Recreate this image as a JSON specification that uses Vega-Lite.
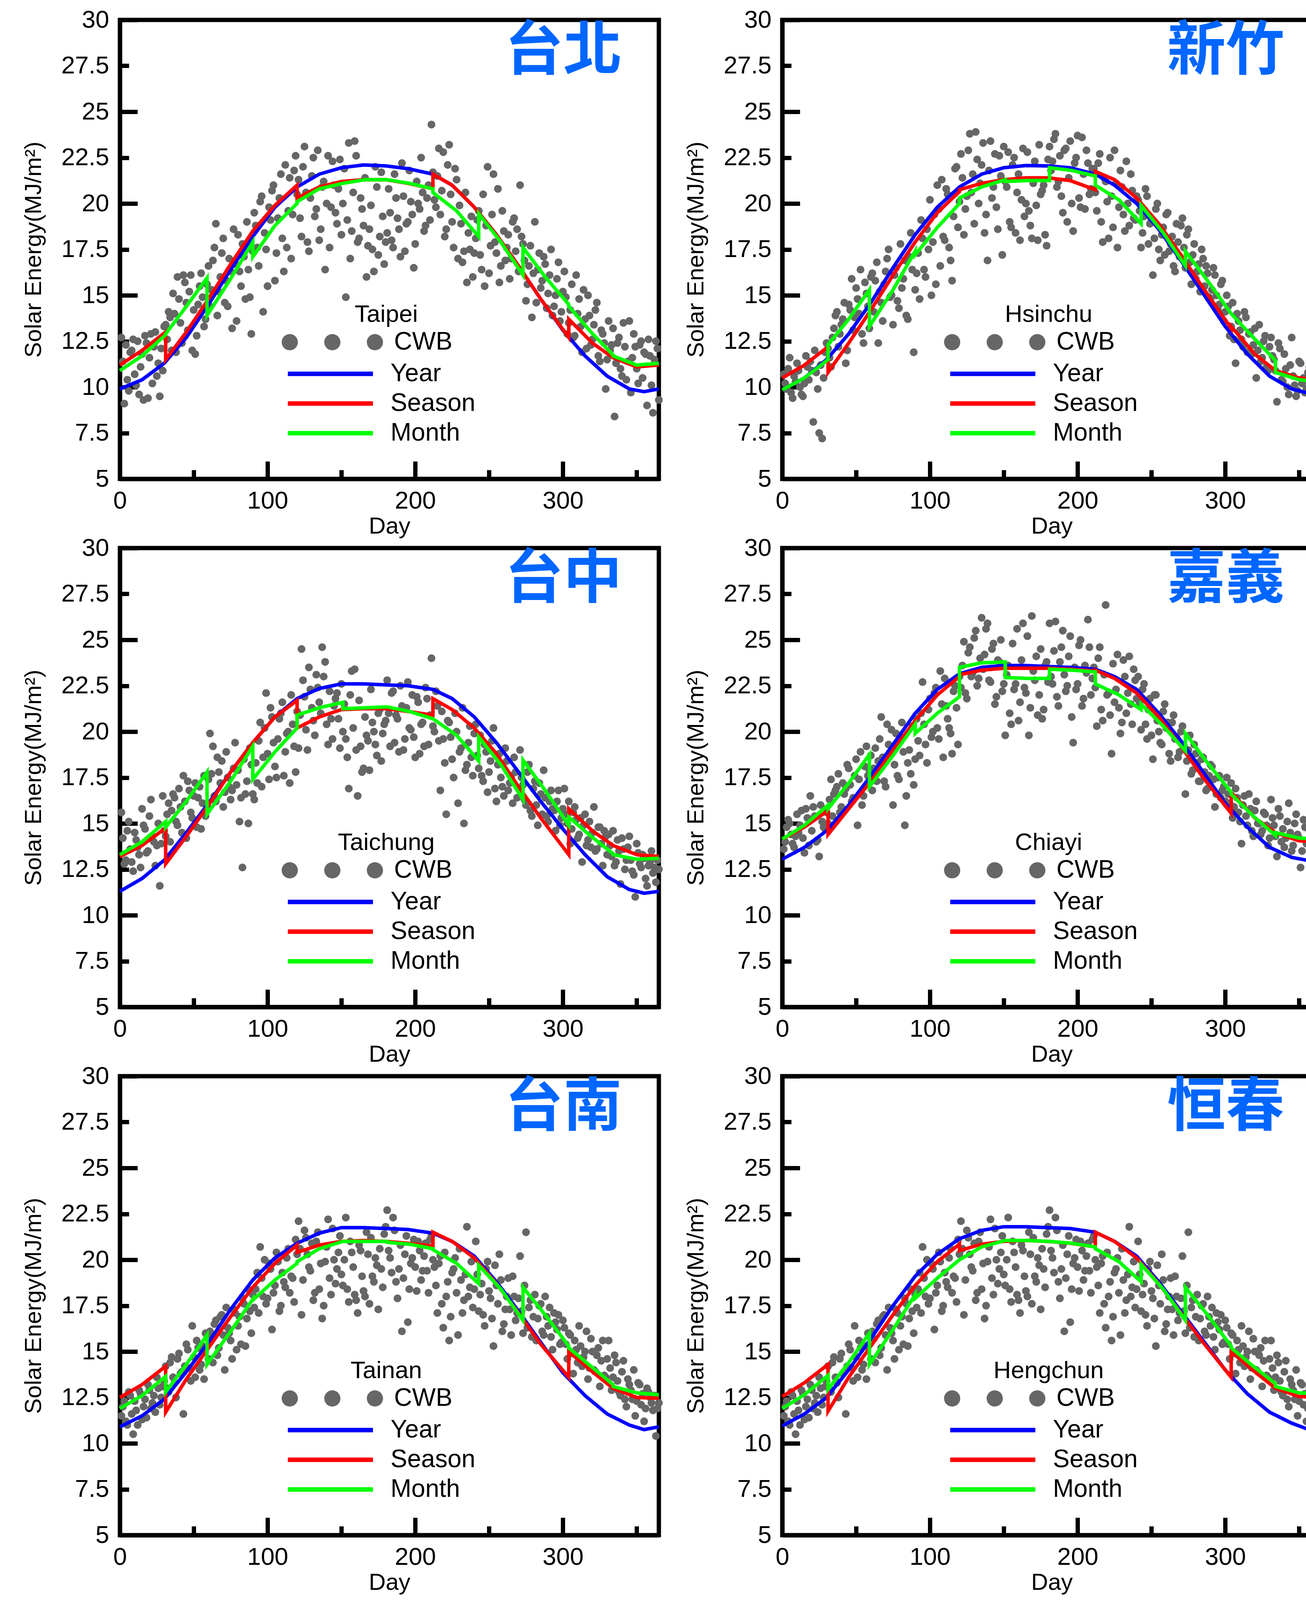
{
"$schema": "https://vega.github.io/schema/vega-lite/v6.json",
"background": "white",
"padding": {"left": 50, "top": 14, "right": 5, "bottom": 5},
"columns": 2,
"spacing": {"row": 177, "column": 316},
"bounds": "flush",
"resolve": {"scale": {"fill": "independent", "stroke": "independent"}, "legend": {"fill": "independent", "stroke": "independent"}},
"datasets": {
"cwb": [
{"d":1,"TP":12.7,"HC":10.7,"TC":15.6,"CY":13.6,"TN":11.5},
{"d":3,"TP":9.1,"HC":9.9,"TC":12.8,"CY":14.8,"TN":12.3},
{"d":5,"TP":10.4,"HC":11.6,"TC":14.6,"CY":15.0,"TN":11.0},
{"d":7,"TP":11.9,"HC":9.4,"TC":13.6,"CY":13.9,"TN":12.6},
{"d":9,"TP":12.6,"HC":10.3,"TC":12.4,"CY":14.3,"TN":10.5},
{"d":11,"TP":10.1,"HC":10.9,"TC":14.1,"CY":14.5,"TN":11.8},
{"d":13,"TP":9.6,"HC":9.6,"TC":13.3,"CY":15.7,"TN":12.9},
{"d":15,"TP":11.8,"HC":10.2,"TC":15.8,"CY":13.4,"TN":11.3},
{"d":17,"TP":12.8,"HC":11.1,"TC":14.7,"CY":15.3,"TN":12.4},
{"d":19,"TP":9.4,"HC":11.4,"TC":13.5,"CY":16.5,"TN":13.2},
{"d":21,"TP":12.9,"HC":8.1,"TC":16.3,"CY":15.9,"TN":11.9},
{"d":23,"TP":12.2,"HC":10.8,"TC":14.0,"CY":14.0,"TN":12.6},
{"d":25,"TP":10.6,"HC":7.5,"TC":13.8,"CY":13.2,"TN":13.6},
{"d":27,"TP":9.5,"HC":7.2,"TC":11.6,"CY":15.1,"TN":12.1},
{"d":29,"TP":10.9,"HC":11.9,"TC":16.5,"CY":14.7,"TN":13.1},
{"d":31,"TP":13.4,"HC":12.1,"TC":14.3,"CY":15.0,"TN":14.2},
{"d":33,"TP":14.1,"HC":11.1,"TC":16.1,"CY":17.4,"TN":12.8},
{"d":35,"TP":12.0,"HC":13.2,"TC":15.7,"CY":16.6,"TN":14.7},
{"d":37,"TP":14.0,"HC":14.1,"TC":16.4,"CY":17.0,"TN":13.3},
{"d":39,"TP":16.0,"HC":12.9,"TC":14.9,"CY":15.6,"TN":14.6},
{"d":41,"TP":13.5,"HC":13.7,"TC":15.9,"CY":17.2,"TN":13.8},
{"d":43,"TP":16.1,"HC":11.3,"TC":17.6,"CY":16.9,"TN":11.6},
{"d":45,"TP":14.6,"HC":14.5,"TC":14.2,"CY":18.0,"TN":15.4},
{"d":47,"TP":15.2,"HC":15.9,"TC":16.8,"CY":16.2,"TN":14.1},
{"d":49,"TP":12.0,"HC":13.8,"TC":15.3,"CY":17.6,"TN":16.4},
{"d":51,"TP":11.8,"HC":14.8,"TC":17.2,"CY":14.9,"TN":13.6},
{"d":53,"TP":14.5,"HC":16.4,"TC":16.4,"CY":18.9,"TN":15.2},
{"d":55,"TP":16.2,"HC":12.4,"TC":14.7,"CY":16.5,"TN":14.3},
{"d":57,"TP":13.3,"HC":15.1,"TC":17.6,"CY":19.2,"TN":13.5},
{"d":59,"TP":15.6,"HC":13.2,"TC":16.0,"CY":17.9,"TN":15.9},
{"d":61,"TP":14.4,"HC":16.2,"TC":19.9,"CY":16.8,"TN":16.1},
{"d":63,"TP":16.9,"HC":15.8,"TC":19.2,"CY":19.1,"TN":14.4},
{"d":65,"TP":18.9,"HC":12.4,"TC":16.2,"CY":18.4,"TN":16.7},
{"d":67,"TP":15.2,"HC":14.6,"TC":17.8,"CY":20.8,"TN":15.2},
{"d":69,"TP":17.3,"HC":15.6,"TC":18.4,"CY":17.3,"TN":17.0},
{"d":71,"TP":14.6,"HC":17.0,"TC":16.7,"CY":20.4,"TN":14.0},
{"d":73,"TP":14.4,"HC":14.9,"TC":17.5,"CY":18.7,"TN":16.3},
{"d":75,"TP":16.3,"HC":13.4,"TC":16.3,"CY":16.0,"TN":15.6},
{"d":77,"TP":18.6,"HC":16.5,"TC":18.0,"CY":19.9,"TN":17.3},
{"d":79,"TP":13.6,"HC":14.3,"TC":17.1,"CY":17.4,"TN":15.1},
{"d":81,"TP":16.3,"HC":15.4,"TC":15.1,"CY":20.5,"TN":16.9},
{"d":83,"TP":17.8,"HC":16.9,"TC":12.6,"CY":14.9,"TN":17.9},
{"d":85,"TP":14.8,"HC":13.7,"TC":16.6,"CY":18.3,"TN":15.3},
{"d":87,"TP":16.4,"HC":18.4,"TC":15.0,"CY":17.7,"TN":18.4},
{"d":89,"TP":12.9,"HC":11.9,"TC":18.2,"CY":17.1,"TN":16.0},
{"d":91,"TP":19.5,"HC":16.2,"TC":16.3,"CY":20.7,"TN":17.4},
{"d":93,"TP":17.6,"HC":14.8,"TC":17.2,"CY":18.7,"TN":19.3},
{"d":95,"TP":20.1,"HC":18.1,"TC":20.5,"CY":22.7,"TN":20.7},
{"d":97,"TP":14.1,"HC":16.0,"TC":18.6,"CY":19.3,"TN":18.0},
{"d":99,"TP":17.5,"HC":17.5,"TC":22.1,"CY":21.2,"TN":17.6},
{"d":101,"TP":19.8,"HC":15.0,"TC":17.4,"CY":19.7,"TN":19.8},
{"d":103,"TP":20.7,"HC":19.4,"TC":20.8,"CY":22.1,"TN":16.2},
{"d":105,"TP":15.8,"HC":21.0,"TC":18.1,"CY":20.2,"TN":18.6},
{"d":107,"TP":19.2,"HC":16.6,"TC":19.6,"CY":23.3,"TN":19.9},
{"d":109,"TP":21.6,"HC":18.2,"TC":21.0,"CY":18.6,"TN":17.5},
{"d":111,"TP":16.3,"HC":20.8,"TC":17.6,"CY":21.4,"TN":18.8},
{"d":113,"TP":17.6,"HC":17.6,"TC":19.9,"CY":20.2,"TN":20.1},
{"d":115,"TP":21.4,"HC":15.8,"TC":17.2,"CY":18.8,"TN":18.2},
{"d":117,"TP":19.4,"HC":21.9,"TC":20.4,"CY":22.5,"TN":19.0},
{"d":119,"TP":22.6,"HC":18.7,"TC":17.8,"CY":19.3,"TN":21.1},
{"d":121,"TP":21.3,"HC":22.7,"TC":19.1,"CY":22.4,"TN":22.1},
{"d":123,"TP":18.2,"HC":18.3,"TC":24.5,"CY":24.9,"TN":17.0},
{"d":125,"TP":23.1,"HC":20.4,"TC":21.9,"CY":21.8,"TN":21.6},
{"d":127,"TP":17.9,"HC":23.8,"TC":19.0,"CY":24.6,"TN":20.3},
{"d":129,"TP":20.3,"HC":21.6,"TC":22.3,"CY":23.2,"TN":19.4},
{"d":131,"TP":22.5,"HC":23.9,"TC":20.6,"CY":25.5,"TN":17.8},
{"d":133,"TP":19.7,"HC":20.0,"TC":23.1,"CY":22.9,"TN":21.0},
{"d":135,"TP":18.0,"HC":22.1,"TC":21.6,"CY":26.2,"TN":18.4},
{"d":137,"TP":20.9,"HC":18.4,"TC":24.6,"CY":24.2,"TN":16.8},
{"d":139,"TP":16.4,"HC":16.9,"TC":23.8,"CY":25.9,"TN":19.9},
{"d":141,"TP":22.6,"HC":23.4,"TC":19.3,"CY":22.7,"TN":22.2},
{"d":143,"TP":19.8,"HC":20.9,"TC":20.7,"CY":24.8,"TN":18.1},
{"d":145,"TP":21.0,"HC":19.8,"TC":21.4,"CY":21.9,"TN":20.0},
{"d":147,"TP":18.9,"HC":22.6,"TC":22.1,"CY":23.8,"TN":19.5},
{"d":149,"TP":22.4,"HC":17.2,"TC":19.1,"CY":22.2,"TN":21.3},
{"d":151,"TP":20.0,"HC":21.2,"TC":20.0,"CY":19.8,"TN":18.6},
{"d":153,"TP":14.9,"HC":22.8,"TC":19.6,"CY":23.6,"TN":22.3},
{"d":155,"TP":23.3,"HC":18.7,"TC":16.9,"CY":20.4,"TN":17.7},
{"d":157,"TP":18.5,"HC":22.5,"TC":23.3,"CY":22.3,"TN":20.4},
{"d":159,"TP":23.4,"HC":20.6,"TC":23.4,"CY":25.6,"TN":18.1},
{"d":161,"TP":17.9,"HC":18.0,"TC":16.5,"CY":21.6,"TN":17.1},
{"d":163,"TP":20.3,"HC":23.0,"TC":19.2,"CY":25.9,"TN":20.5},
{"d":165,"TP":18.8,"HC":20.0,"TC":18.0,"CY":22.1,"TN":18.3},
{"d":167,"TP":16.0,"HC":19.6,"TC":19.8,"CY":19.8,"TN":21.5},
{"d":169,"TP":18.6,"HC":18.1,"TC":17.9,"CY":26.3,"TN":17.6},
{"d":171,"TP":17.5,"HC":22.3,"TC":20.5,"CY":22.8,"TN":19.1},
{"d":173,"TP":22.0,"HC":18.0,"TC":19.3,"CY":20.9,"TN":20.1},
{"d":175,"TP":17.2,"HC":20.5,"TC":21.0,"CY":24.5,"TN":17.3},
{"d":177,"TP":21.7,"HC":21.0,"TC":18.4,"CY":21.2,"TN":19.5},
{"d":179,"TP":16.7,"HC":17.7,"TC":20.4,"CY":23.8,"TN":21.4},
{"d":181,"TP":18.4,"HC":23.1,"TC":22.8,"CY":25.9,"TN":22.7},
{"d":183,"TP":19.5,"HC":22.3,"TC":19.2,"CY":22.6,"TN":20.1},
{"d":185,"TP":17.6,"HC":23.8,"TC":22.2,"CY":26.0,"TN":22.3},
{"d":187,"TP":20.3,"HC":21.2,"TC":20.9,"CY":21.4,"TN":18.8},
{"d":189,"TP":18.6,"HC":20.4,"TC":18.9,"CY":24.6,"TN":19.5},
{"d":191,"TP":22.2,"HC":22.9,"TC":21.4,"CY":23.1,"TN":16.1},
{"d":193,"TP":17.4,"HC":19.0,"TC":19.6,"CY":22.5,"TN":20.3},
{"d":195,"TP":19.0,"HC":23.4,"TC":22.7,"CY":25.2,"TN":16.6},
{"d":197,"TP":20.1,"HC":18.5,"TC":20.1,"CY":19.4,"TN":19.8},
{"d":199,"TP":16.5,"HC":22.5,"TC":19.7,"CY":22.3,"TN":21.1},
{"d":201,"TP":21.2,"HC":20.3,"TC":21.9,"CY":24.7,"TN":18.3},
{"d":203,"TP":19.7,"HC":23.6,"TC":18.8,"CY":21.4,"TN":20.5},
{"d":205,"TP":20.6,"HC":19.7,"TC":20.5,"CY":23.6,"TN":19.4},
{"d":207,"TP":18.8,"HC":22.2,"TC":22.4,"CY":26.1,"TN":20.9},
{"d":209,"TP":21.0,"HC":20.8,"TC":19.3,"CY":22.0,"TN":18.2},
{"d":211,"TP":24.3,"HC":21.9,"TC":24.0,"CY":23.5,"TN":21.3},
{"d":213,"TP":20.2,"HC":19.6,"TC":20.0,"CY":20.3,"TN":19.6},
{"d":215,"TP":21.5,"HC":22.7,"TC":21.4,"CY":24.6,"TN":17.1},
{"d":217,"TP":19.4,"HC":17.9,"TC":16.8,"CY":20.6,"TN":20.2},
{"d":219,"TP":22.8,"HC":21.2,"TC":19.6,"CY":26.9,"TN":16.3},
{"d":221,"TP":18.6,"HC":18.1,"TC":15.5,"CY":22.1,"TN":18.0},
{"d":223,"TP":23.2,"HC":20.4,"TC":20.5,"CY":18.8,"TN":15.6},
{"d":225,"TP":19.0,"HC":22.9,"TC":18.5,"CY":21.6,"TN":19.3},
{"d":227,"TP":21.9,"HC":17.6,"TC":21.0,"CY":24.2,"TN":20.1},
{"d":229,"TP":17.0,"HC":21.8,"TC":16.1,"CY":19.9,"TN":15.9},
{"d":231,"TP":18.9,"HC":19.4,"TC":19.1,"CY":23.9,"TN":18.9},
{"d":233,"TP":17.4,"HC":22.3,"TC":15.0,"CY":21.0,"TN":17.8},
{"d":235,"TP":15.7,"HC":18.8,"TC":18.2,"CY":24.1,"TN":21.8},
{"d":237,"TP":17.5,"HC":20.7,"TC":20.3,"CY":20.4,"TN":18.5},
{"d":239,"TP":16.0,"HC":19.1,"TC":17.6,"CY":22.8,"TN":17.4},
{"d":241,"TP":18.1,"HC":20.2,"TC":20.4,"CY":23.0,"TN":21.0},
{"d":243,"TP":19.6,"HC":17.6,"TC":18.0,"CY":20.1,"TN":17.2},
{"d":245,"TP":16.4,"HC":19.3,"TC":17.6,"CY":22.6,"TN":18.7},
{"d":247,"TP":15.5,"HC":20.4,"TC":19.3,"CY":19.6,"TN":16.4},
{"d":249,"TP":22.0,"HC":18.9,"TC":16.7,"CY":21.8,"TN":19.9},
{"d":251,"TP":17.7,"HC":16.1,"TC":18.4,"CY":18.5,"TN":17.9},
{"d":253,"TP":21.6,"HC":19.7,"TC":20.2,"CY":22.0,"TN":15.3},
{"d":255,"TP":17.3,"HC":17.5,"TC":16.2,"CY":20.0,"TN":18.6},
{"d":257,"TP":15.7,"HC":18.3,"TC":18.8,"CY":19.3,"TN":20.3},
{"d":259,"TP":19.6,"HC":17.2,"TC":17.0,"CY":21.5,"TN":16.1},
{"d":261,"TP":16.9,"HC":19.5,"TC":19.1,"CY":20.5,"TN":17.3},
{"d":263,"TP":18.3,"HC":17.8,"TC":16.8,"CY":18.4,"TN":19.0},
{"d":265,"TP":17.0,"HC":16.6,"TC":17.6,"CY":20.9,"TN":15.9},
{"d":267,"TP":19.2,"HC":18.9,"TC":18.6,"CY":19.7,"TN":18.0},
{"d":269,"TP":18.6,"HC":17.1,"TC":16.4,"CY":18.9,"TN":17.1},
{"d":271,"TP":21.0,"HC":19.2,"TC":19.0,"CY":20.3,"TN":20.2},
{"d":273,"TP":17.8,"HC":16.5,"TC":17.1,"CY":16.6,"TN":16.0},
{"d":275,"TP":14.7,"HC":18.6,"TC":16.0,"CY":19.0,"TN":21.5},
{"d":277,"TP":16.6,"HC":15.6,"TC":18.2,"CY":17.7,"TN":17.4},
{"d":279,"TP":13.8,"HC":17.8,"TC":15.4,"CY":19.3,"TN":15.8},
{"d":281,"TP":19.0,"HC":16.3,"TC":17.3,"CY":18.3,"TN":18.1},
{"d":283,"TP":16.4,"HC":15.2,"TC":14.9,"CY":17.3,"TN":16.8},
{"d":285,"TP":15.4,"HC":17.0,"TC":16.6,"CY":18.6,"TN":17.6},
{"d":287,"TP":17.1,"HC":16.6,"TC":17.9,"CY":16.8,"TN":15.9},
{"d":289,"TP":14.3,"HC":14.9,"TC":15.4,"CY":17.6,"TN":16.9},
{"d":291,"TP":16.1,"HC":15.3,"TC":16.2,"CY":18.1,"TN":17.4},
{"d":293,"TP":13.9,"HC":16.1,"TC":15.8,"CY":15.9,"TN":15.1},
{"d":295,"TP":15.0,"HC":14.2,"TC":14.6,"CY":17.5,"TN":16.6},
{"d":297,"TP":16.8,"HC":15.6,"TC":16.8,"CY":16.4,"TN":17.0},
{"d":299,"TP":14.1,"HC":13.6,"TC":15.3,"CY":17.0,"TN":15.5},
{"d":301,"TP":16.3,"HC":15.0,"TC":16.9,"CY":17.5,"TN":16.3},
{"d":303,"TP":12.9,"HC":12.8,"TC":15.0,"CY":16.1,"TN":14.6},
{"d":305,"TP":14.2,"HC":14.6,"TC":13.9,"CY":15.3,"TN":15.9},
{"d":307,"TP":12.7,"HC":11.3,"TC":15.6,"CY":16.9,"TN":13.8},
{"d":309,"TP":16.1,"HC":13.6,"TC":15.2,"CY":15.6,"TN":15.1},
{"d":311,"TP":14.8,"HC":12.6,"TC":14.4,"CY":13.9,"TN":16.4},
{"d":313,"TP":11.9,"HC":14.1,"TC":12.9,"CY":16.5,"TN":14.2},
{"d":315,"TP":13.7,"HC":11.9,"TC":15.5,"CY":14.9,"TN":15.0},
{"d":317,"TP":15.0,"HC":13.0,"TC":14.1,"CY":15.8,"TN":13.5},
{"d":319,"TP":12.3,"HC":12.3,"TC":13.7,"CY":14.3,"TN":15.7},
{"d":321,"TP":13.4,"HC":10.5,"TC":15.9,"CY":16.2,"TN":14.0},
{"d":323,"TP":14.6,"HC":13.4,"TC":13.6,"CY":15.0,"TN":14.8},
{"d":325,"TP":11.4,"HC":11.6,"TC":14.8,"CY":14.6,"TN":13.1},
{"d":327,"TP":12.9,"HC":12.8,"TC":12.7,"CY":15.5,"TN":15.6},
{"d":329,"TP":9.9,"HC":10.9,"TC":14.3,"CY":13.8,"TN":13.6},
{"d":331,"TP":13.6,"HC":12.7,"TC":14.4,"CY":16.3,"TN":15.6},
{"d":333,"TP":12.3,"HC":11.5,"TC":13.2,"CY":14.9,"TN":12.9},
{"d":335,"TP":8.4,"HC":9.2,"TC":12.7,"CY":13.2,"TN":14.8},
{"d":337,"TP":12.4,"HC":12.1,"TC":14.1,"CY":15.4,"TN":13.4},
{"d":339,"TP":11.0,"HC":10.3,"TC":11.7,"CY":14.7,"TN":12.6},
{"d":341,"TP":13.5,"HC":11.0,"TC":13.6,"CY":14.2,"TN":14.5},
{"d":343,"TP":10.4,"HC":9.6,"TC":13.0,"CY":16.1,"TN":12.0},
{"d":345,"TP":13.6,"HC":12.7,"TC":14.3,"CY":13.5,"TN":13.2},
{"d":347,"TP":11.6,"HC":10.1,"TC":12.4,"CY":15.0,"TN":12.4},
{"d":349,"TP":12.2,"HC":9.8,"TC":11.0,"CY":14.4,"TN":11.5},
{"d":351,"TP":10.2,"HC":11.3,"TC":13.4,"CY":12.6,"TN":13.3},
{"d":353,"TP":12.5,"HC":10.5,"TC":12.6,"CY":15.2,"TN":12.1},
{"d":355,"TP":11.9,"HC":9.9,"TC":13.1,"CY":13.9,"TN":11.2},
{"d":357,"TP":9.0,"HC":11.1,"TC":11.6,"CY":14.6,"TN":13.0},
{"d":359,"TP":11.7,"HC":10.2,"TC":12.9,"CY":13.3,"TN":12.5},
{"d":361,"TP":8.6,"HC":9.6,"TC":12.3,"CY":14.8,"TN":11.8},
{"d":363,"TP":12.5,"HC":10.4,"TC":11.8,"CY":12.8,"TN":10.4},
{"d":365,"TP":9.3,"HC":8.8,"TC":12.5,"CY":14.1,"TN":12.2},
{"d":2,"TP":11.4,"HC":10.2,"TC":14.2,"CY":14.0,"TN":12.0},
{"d":4,"TP":12.3,"HC":11.0,"TC":13.0,"CY":15.2,"TN":11.2},
{"d":6,"TP":9.8,"HC":9.7,"TC":15.1,"CY":14.4,"TN":12.8},
{"d":8,"TP":12.0,"HC":10.6,"TC":12.9,"CY":13.7,"TN":11.6},
{"d":10,"TP":10.7,"HC":11.3,"TC":14.5,"CY":15.5,"TN":12.3},
{"d":12,"TP":12.5,"HC":10.0,"TC":13.7,"CY":14.9,"TN":11.0},
{"d":14,"TP":11.1,"HC":9.5,"TC":12.6,"CY":14.2,"TN":12.7},
{"d":16,"TP":9.3,"HC":11.7,"TC":14.9,"CY":15.8,"TN":12.0},
{"d":18,"TP":12.4,"HC":10.4,"TC":13.4,"CY":13.8,"TN":11.4},
{"d":20,"TP":11.6,"HC":10.9,"TC":15.4,"CY":14.6,"TN":12.9},
{"d":22,"TP":10.2,"HC":12.0,"TC":14.3,"CY":15.4,"TN":12.2},
{"d":24,"TP":13.0,"HC":9.9,"TC":12.7,"CY":14.1,"TN":11.7},
{"d":26,"TP":11.3,"HC":11.2,"TC":15.0,"CY":16.0,"TN":13.0},
{"d":28,"TP":12.1,"HC":10.5,"TC":13.9,"CY":14.8,"TN":12.5},
{"d":30,"TP":13.3,"HC":12.4,"TC":14.6,"CY":15.6,"TN":13.4},
{"d":32,"TP":12.6,"HC":11.6,"TC":15.5,"CY":16.3,"TN":13.0},
{"d":34,"TP":13.8,"HC":12.7,"TC":14.0,"CY":15.4,"TN":14.4},
{"d":36,"TP":15.1,"HC":13.9,"TC":16.6,"CY":16.8,"TN":13.6},
{"d":38,"TP":11.9,"HC":12.2,"TC":15.1,"CY":17.7,"TN":12.5},
{"d":40,"TP":14.8,"HC":13.4,"TC":16.9,"CY":15.9,"TN":14.9},
{"d":42,"TP":12.4,"HC":14.6,"TC":14.5,"CY":16.6,"TN":13.9},
{"d":44,"TP":15.7,"HC":12.0,"TC":16.2,"CY":18.2,"TN":14.2},
{"d":46,"TP":13.1,"HC":14.2,"TC":17.3,"CY":17.1,"TN":15.1},
{"d":48,"TP":16.1,"HC":13.1,"TC":15.6,"CY":16.4,"TN":13.4},
{"d":50,"TP":14.2,"HC":15.4,"TC":16.5,"CY":18.5,"TN":14.7},
{"d":52,"TP":12.8,"HC":14.0,"TC":14.8,"CY":17.4,"TN":15.6},
{"d":54,"TP":15.5,"HC":12.9,"TC":17.0,"CY":16.0,"TN":14.0},
{"d":56,"TP":14.9,"HC":15.7,"TC":16.1,"CY":18.1,"TN":15.3},
{"d":58,"TP":13.7,"HC":14.4,"TC":15.4,"CY":17.6,"TN":16.0},
{"d":60,"TP":16.6,"HC":16.0,"TC":17.4,"CY":18.7,"TN":14.6},
{"d":62,"TP":15.3,"HC":14.1,"TC":17.7,"CY":18.0,"TN":15.7},
{"d":64,"TP":17.6,"HC":16.8,"TC":16.5,"CY":17.3,"TN":16.5},
{"d":66,"TP":13.9,"HC":15.2,"TC":18.6,"CY":19.6,"TN":14.8},
{"d":68,"TP":16.0,"HC":13.6,"TC":17.2,"CY":18.6,"TN":16.9},
{"d":70,"TP":18.1,"HC":16.3,"TC":15.9,"CY":17.0,"TN":15.9},
{"d":72,"TP":15.8,"HC":17.5,"TC":18.9,"CY":19.3,"TN":17.4},
{"d":74,"TP":17.0,"HC":15.0,"TC":17.0,"CY":20.1,"TN":16.0},
{"d":76,"TP":13.2,"HC":16.1,"TC":16.8,"CY":18.2,"TN":14.6},
{"d":78,"TP":16.7,"HC":14.7,"TC":19.4,"CY":17.6,"TN":17.1},
{"d":80,"TP":18.3,"HC":17.8,"TC":17.9,"CY":19.7,"TN":16.4},
{"d":82,"TP":15.5,"HC":15.9,"TC":16.4,"CY":18.9,"TN":15.4},
{"d":84,"TP":17.1,"HC":13.9,"TC":18.5,"CY":16.5,"TN":17.6},
{"d":86,"TP":19.0,"HC":17.1,"TC":17.3,"CY":19.0,"TN":16.8},
{"d":88,"TP":14.9,"HC":16.4,"TC":19.1,"CY":20.3,"TN":17.2},
{"d":90,"TP":17.4,"HC":15.3,"TC":16.6,"CY":18.5,"TN":18.1},
{"d":92,"TP":18.8,"HC":17.3,"TC":18.3,"CY":19.5,"TN":18.4},
{"d":94,"TP":16.6,"HC":19.1,"TC":19.5,"CY":21.0,"TN":17.1},
{"d":96,"TP":20.4,"HC":16.4,"TC":17.0,"CY":20.4,"TN":19.0},
{"d":98,"TP":18.4,"HC":18.6,"TC":20.2,"CY":18.3,"TN":20.0},
{"d":100,"TP":15.5,"HC":20.2,"TC":18.8,"CY":21.8,"TN":17.9},
{"d":102,"TP":19.1,"HC":17.9,"TC":21.3,"CY":20.0,"TN":19.5},
{"d":104,"TP":21.0,"HC":15.6,"TC":19.4,"CY":22.4,"TN":18.2},
{"d":106,"TP":17.3,"HC":19.7,"TC":17.5,"CY":19.6,"TN":20.4},
{"d":108,"TP":20.3,"HC":21.3,"TC":20.7,"CY":21.5,"TN":17.2},
{"d":110,"TP":18.1,"HC":18.0,"TC":21.6,"CY":22.9,"TN":19.3},
{"d":112,"TP":22.1,"HC":20.5,"TC":18.9,"CY":20.7,"TN":18.5},
{"d":114,"TP":19.6,"HC":16.9,"TC":20.0,"CY":19.9,"TN":20.6},
{"d":116,"TP":17.0,"HC":19.3,"TC":22.0,"CY":22.2,"TN":19.1},
{"d":118,"TP":21.8,"HC":22.0,"TC":19.2,"CY":21.3,"TN":17.7},
{"d":120,"TP":20.5,"HC":20.1,"TC":21.1,"CY":23.0,"TN":20.3},
{"d":122,"TP":19.2,"HC":21.4,"TC":20.9,"CY":23.6,"TN":20.6},
{"d":124,"TP":22.0,"HC":19.7,"TC":22.8,"CY":22.1,"TN":18.9},
{"d":126,"TP":20.6,"HC":22.9,"TC":20.1,"CY":24.3,"TN":21.2},
{"d":128,"TP":17.4,"HC":20.6,"TC":23.5,"CY":23.0,"TN":19.6},
{"d":130,"TP":21.5,"HC":18.9,"TC":21.3,"CY":25.1,"TN":20.9},
{"d":132,"TP":19.3,"HC":22.4,"TC":19.8,"CY":22.5,"TN":18.2},
{"d":134,"TP":22.9,"HC":21.1,"TC":22.4,"CY":24.0,"TN":21.5},
{"d":136,"TP":18.6,"HC":23.3,"TC":21.0,"CY":23.4,"TN":19.8},
{"d":138,"TP":21.2,"HC":19.4,"TC":23.0,"CY":25.6,"TN":17.5},
{"d":140,"TP":20.0,"HC":21.8,"TC":20.4,"CY":22.8,"TN":20.7},
{"d":142,"TP":17.6,"HC":20.3,"TC":22.2,"CY":24.5,"TN":19.0},
{"d":144,"TP":22.3,"HC":22.7,"TC":19.6,"CY":21.5,"TN":21.7},
{"d":146,"TP":19.5,"HC":18.6,"TC":21.8,"CY":23.9,"TN":18.7},
{"d":148,"TP":20.8,"HC":21.5,"TC":20.7,"CY":25.0,"TN":20.4},
{"d":150,"TP":18.3,"HC":23.1,"TC":22.6,"CY":22.6,"TN":19.2},
{"d":152,"TP":21.9,"HC":20.9,"TC":21.5,"CY":23.1,"TN":20.0},
{"d":154,"TP":19.1,"HC":19.0,"TC":18.6,"CY":21.0,"TN":18.4},
{"d":156,"TP":17.0,"HC":22.1,"TC":22.0,"CY":24.8,"TN":21.0},
{"d":158,"TP":20.6,"HC":18.4,"TC":20.2,"CY":22.6,"TN":19.6},
{"d":160,"TP":22.6,"HC":21.6,"TC":19.0,"CY":20.6,"TN":17.8},
{"d":162,"TP":18.1,"HC":20.2,"TC":21.7,"CY":23.9,"TN":20.8},
{"d":164,"TP":19.7,"HC":19.3,"TC":17.8,"CY":22.4,"TN":19.1},
{"d":166,"TP":21.4,"HC":22.8,"TC":20.8,"CY":25.2,"TN":18.0},
{"d":168,"TP":17.7,"HC":18.8,"TC":19.5,"CY":21.3,"TN":20.3},
{"d":170,"TP":19.9,"HC":21.1,"TC":22.3,"CY":23.3,"TN":21.2},
{"d":172,"TP":16.3,"HC":19.9,"TC":20.0,"CY":24.1,"TN":18.8},
{"d":174,"TP":20.9,"HC":23.2,"TC":18.7,"CY":22.0,"TN":19.7},
{"d":176,"TP":18.2,"HC":20.7,"TC":21.2,"CY":20.7,"TN":20.6},
{"d":178,"TP":19.3,"HC":18.3,"TC":19.9,"CY":23.6,"TN":18.5},
{"d":180,"TP":17.9,"HC":22.4,"TC":20.6,"CY":22.7,"TN":21.8},
{"d":182,"TP":20.8,"HC":21.8,"TC":21.0,"CY":23.0,"TN":20.5},
{"d":184,"TP":18.0,"HC":23.5,"TC":22.1,"CY":24.4,"TN":19.3},
{"d":186,"TP":21.6,"HC":20.9,"TC":19.4,"CY":21.9,"TN":21.6},
{"d":188,"TP":19.2,"HC":22.6,"TC":20.7,"CY":23.8,"TN":17.9},
{"d":190,"TP":17.1,"HC":19.5,"TC":22.5,"CY":25.5,"TN":20.8},
{"d":192,"TP":20.4,"HC":23.0,"TC":19.0,"CY":22.2,"TN":19.0},
{"d":194,"TP":18.9,"HC":21.4,"TC":21.3,"CY":24.1,"TN":21.3},
{"d":196,"TP":21.8,"HC":20.0,"TC":20.2,"CY":20.8,"TN":18.4},
{"d":198,"TP":19.4,"HC":22.2,"TC":22.0,"CY":23.5,"TN":20.1},
{"d":200,"TP":17.8,"HC":23.7,"TC":18.6,"CY":22.6,"TN":19.6},
{"d":202,"TP":20.0,"HC":19.8,"TC":21.6,"CY":25.0,"TN":21.0},
{"d":204,"TP":22.5,"HC":21.6,"TC":20.4,"CY":21.8,"TN":18.9},
{"d":206,"TP":18.5,"HC":22.9,"TC":19.2,"CY":23.2,"TN":20.2},
{"d":208,"TP":20.3,"HC":20.5,"TC":21.8,"CY":24.6,"TN":19.4},
{"d":210,"TP":19.1,"HC":21.9,"TC":20.9,"CY":22.9,"TN":21.1},
{"d":212,"TP":21.7,"HC":20.6,"TC":20.3,"CY":22.4,"TN":20.0},
{"d":214,"TP":19.8,"HC":22.2,"TC":22.2,"CY":24.0,"TN":18.6},
{"d":216,"TP":23.0,"HC":19.0,"TC":19.5,"CY":21.2,"TN":19.8},
{"d":218,"TP":20.7,"HC":21.4,"TC":21.1,"CY":23.1,"TN":17.6},
{"d":220,"TP":18.2,"HC":20.1,"TC":18.3,"CY":22.0,"TN":20.4},
{"d":222,"TP":22.1,"HC":22.5,"TC":20.6,"CY":20.9,"TN":18.8},
{"d":224,"TP":20.5,"HC":18.7,"TC":19.7,"CY":23.7,"TN":16.9},
{"d":226,"TP":17.6,"HC":21.1,"TC":17.5,"CY":22.3,"TN":19.5},
{"d":228,"TP":21.3,"HC":19.8,"TC":20.0,"CY":21.3,"TN":18.2},
{"d":230,"TP":19.9,"HC":20.9,"TC":18.9,"CY":20.5,"TN":20.6},
{"d":232,"TP":16.8,"HC":18.5,"TC":21.3,"CY":23.0,"TN":17.1},
{"d":234,"TP":20.6,"HC":20.0,"TC":17.9,"CY":22.1,"TN":19.2},
{"d":236,"TP":18.4,"HC":21.6,"TC":19.4,"CY":21.5,"TN":18.0},
{"d":238,"TP":19.3,"HC":19.2,"TC":18.6,"CY":23.4,"TN":19.9},
{"d":240,"TP":17.3,"HC":20.4,"TC":19.9,"CY":21.8,"TN":18.4},
{"d":242,"TP":19.1,"HC":19.6,"TC":18.7,"CY":21.6,"TN":19.2},
{"d":244,"TP":17.2,"HC":18.4,"TC":19.8,"CY":22.3,"TN":18.1},
{"d":246,"TP":20.5,"HC":20.8,"TC":17.3,"CY":20.4,"TN":17.0},
{"d":248,"TP":18.8,"HC":17.8,"TC":18.9,"CY":21.2,"TN":19.5},
{"d":250,"TP":16.2,"HC":19.1,"TC":17.8,"CY":19.8,"TN":18.3},
{"d":252,"TP":19.4,"HC":18.1,"TC":19.5,"CY":22.0,"TN":16.8},
{"d":254,"TP":17.9,"HC":20.0,"TC":16.9,"CY":20.6,"TN":19.7},
{"d":256,"TP":20.8,"HC":16.9,"TC":18.2,"CY":19.4,"TN":17.6},
{"d":258,"TP":16.6,"HC":18.7,"TC":17.5,"CY":21.1,"TN":18.9},
{"d":260,"TP":18.5,"HC":19.4,"TC":16.5,"CY":20.2,"TN":16.5},
{"d":262,"TP":17.6,"HC":17.4,"TC":18.4,"CY":18.8,"TN":18.0},
{"d":264,"TP":15.9,"HC":18.2,"TC":17.2,"CY":20.5,"TN":17.3},
{"d":266,"TP":19.0,"HC":16.3,"TC":16.1,"CY":19.6,"TN":19.1},
{"d":268,"TP":17.4,"HC":17.9,"TC":17.8,"CY":18.6,"TN":16.7},
{"d":270,"TP":16.3,"HC":18.8,"TC":16.9,"CY":20.0,"TN":17.9},
{"d":272,"TP":18.2,"HC":17.6,"TC":17.5,"CY":19.2,"TN":17.2},
{"d":274,"TP":16.9,"HC":18.3,"TC":16.3,"CY":18.4,"TN":18.6},
{"d":276,"TP":15.6,"HC":16.8,"TC":17.8,"CY":19.8,"TN":16.3},
{"d":278,"TP":17.7,"HC":17.2,"TC":15.7,"CY":17.9,"TN":17.8},
{"d":280,"TP":16.2,"HC":15.9,"TC":16.9,"CY":18.8,"TN":16.9},
{"d":282,"TP":14.6,"HC":16.7,"TC":16.0,"CY":17.3,"TN":15.6},
{"d":284,"TP":17.3,"HC":17.5,"TC":17.2,"CY":18.5,"TN":17.5},
{"d":286,"TP":15.8,"HC":15.5,"TC":15.5,"CY":17.8,"TN":16.1},
{"d":288,"TP":16.7,"HC":16.2,"TC":16.4,"CY":16.9,"TN":18.0},
{"d":290,"TP":15.1,"HC":14.8,"TC":15.1,"CY":18.2,"TN":16.4},
{"d":292,"TP":17.5,"HC":16.5,"TC":16.8,"CY":17.4,"TN":15.8},
{"d":294,"TP":14.4,"HC":15.0,"TC":15.7,"CY":16.6,"TN":17.1},
{"d":296,"TP":15.9,"HC":14.5,"TC":16.2,"CY":17.6,"TN":16.2},
{"d":298,"TP":13.6,"HC":15.8,"TC":14.9,"CY":16.8,"TN":15.4},
{"d":300,"TP":15.2,"HC":14.1,"TC":15.8,"CY":16.2,"TN":16.7},
{"d":302,"TP":14.9,"HC":14.4,"TC":15.5,"CY":16.6,"TN":15.4},
{"d":304,"TP":13.5,"HC":13.3,"TC":16.2,"CY":17.2,"TN":16.0},
{"d":306,"TP":15.6,"HC":12.6,"TC":14.7,"CY":15.9,"TN":14.9},
{"d":308,"TP":12.8,"HC":14.0,"TC":15.9,"CY":16.4,"TN":15.6},
{"d":310,"TP":14.0,"HC":13.1,"TC":14.2,"CY":15.1,"TN":14.4},
{"d":312,"TP":13.3,"HC":12.2,"TC":15.3,"CY":16.0,"TN":15.3},
{"d":314,"TP":15.3,"HC":13.8,"TC":14.9,"CY":15.4,"TN":14.7},
{"d":316,"TP":12.1,"HC":12.9,"TC":13.8,"CY":16.6,"TN":16.1},
{"d":318,"TP":13.9,"HC":11.8,"TC":15.1,"CY":14.6,"TN":14.1},
{"d":320,"TP":12.6,"HC":13.2,"TC":14.5,"CY":15.7,"TN":15.0},
{"d":322,"TP":14.2,"HC":12.0,"TC":13.5,"CY":15.0,"TN":13.9},
{"d":324,"TP":11.7,"HC":11.4,"TC":14.8,"CY":14.4,"TN":15.2},
{"d":326,"TP":13.1,"HC":12.5,"TC":13.9,"CY":15.6,"TN":14.5},
{"d":328,"TP":12.4,"HC":11.1,"TC":14.6,"CY":14.9,"TN":13.7},
{"d":330,"TP":11.5,"HC":12.2,"TC":13.3,"CY":14.2,"TN":14.6},
{"d":332,"TP":12.0,"HC":11.7,"TC":13.8,"CY":15.3,"TN":14.1},
{"d":334,"TP":13.2,"HC":10.9,"TC":14.6,"CY":14.3,"TN":13.6},
{"d":336,"TP":11.3,"HC":12.4,"TC":12.9,"CY":15.8,"TN":14.4},
{"d":338,"TP":12.7,"HC":10.4,"TC":13.5,"CY":14.0,"TN":12.8},
{"d":340,"TP":10.6,"HC":11.8,"TC":14.2,"CY":13.7,"TN":13.9},
{"d":342,"TP":12.2,"HC":10.0,"TC":12.5,"CY":15.1,"TN":12.4},
{"d":344,"TP":11.4,"HC":11.2,"TC":13.7,"CY":14.5,"TN":13.5},
{"d":346,"TP":9.7,"HC":10.6,"TC":13.0,"CY":13.8,"TN":12.9},
{"d":348,"TP":12.9,"HC":9.5,"TC":12.2,"CY":15.5,"TN":14.0},
{"d":350,"TP":11.0,"HC":11.4,"TC":13.9,"CY":14.2,"TN":12.3},
{"d":352,"TP":12.3,"HC":10.2,"TC":12.8,"CY":13.5,"TN":13.2},
{"d":354,"TP":10.5,"HC":9.7,"TC":13.3,"CY":14.8,"TN":12.7},
{"d":356,"TP":11.8,"HC":10.8,"TC":12.0,"CY":14.1,"TN":11.9},
{"d":358,"TP":12.6,"HC":10.0,"TC":12.7,"CY":13.6,"TN":12.8},
{"d":360,"TP":10.1,"HC":10.6,"TC":13.5,"CY":15.0,"TN":12.2},
{"d":362,"TP":11.5,"HC":9.9,"TC":12.6,"CY":14.3,"TN":12.6},
{"d":364,"TP":12.1,"HC":11.0,"TC":13.0,"CY":13.9,"TN":11.9}
],
"fit": [
{"t":"Year","d":0,"TP":9.9,"HC":9.85,"TC":11.3,"CY":13.05,"TN":10.9,"HG":10.95},
{"t":"Year","d":15,"TP":10.4,"HC":10.5,"TC":12.0,"CY":13.7,"TN":11.5,"HG":11.6},
{"t":"Year","d":30,"TP":11.3,"HC":11.5,"TC":13.0,"CY":14.6,"TN":12.4,"HG":12.5},
{"t":"Year","d":45,"TP":12.7,"HC":12.9,"TC":14.5,"CY":16.0,"TN":13.9,"HG":14.0},
{"t":"Year","d":60,"TP":14.5,"HC":14.6,"TC":16.1,"CY":17.6,"TN":15.5,"HG":15.7},
{"t":"Year","d":75,"TP":16.4,"HC":16.5,"TC":17.8,"CY":19.3,"TN":17.3,"HG":17.5},
{"t":"Year","d":90,"TP":18.2,"HC":18.3,"TC":19.4,"CY":21.0,"TN":18.9,"HG":19.1},
{"t":"Year","d":105,"TP":19.8,"HC":19.8,"TC":20.8,"CY":22.3,"TN":20.1,"HG":20.3},
{"t":"Year","d":120,"TP":20.9,"HC":20.9,"TC":21.8,"CY":23.15,"TN":20.9,"HG":21.15},
{"t":"Year","d":135,"TP":21.6,"HC":21.6,"TC":22.35,"CY":23.5,"TN":21.45,"HG":21.6},
{"t":"Year","d":150,"TP":21.95,"HC":21.95,"TC":22.6,"CY":23.6,"TN":21.75,"HG":21.8},
{"t":"Year","d":165,"TP":22.1,"HC":22.07,"TC":22.6,"CY":23.6,"TN":21.75,"HG":21.8},
{"t":"Year","d":180,"TP":22.05,"HC":22.05,"TC":22.55,"CY":23.55,"TN":21.7,"HG":21.75},
{"t":"Year","d":195,"TP":21.9,"HC":21.95,"TC":22.5,"CY":23.5,"TN":21.65,"HG":21.7},
{"t":"Year","d":212,"TP":21.6,"HC":21.6,"TC":22.3,"CY":23.4,"TN":21.45,"HG":21.5},
{"t":"Year","d":225,"TP":21.0,"HC":21.0,"TC":21.8,"CY":23.0,"TN":21.0,"HG":21.0},
{"t":"Year","d":240,"TP":19.8,"HC":20.0,"TC":20.8,"CY":22.3,"TN":20.2,"HG":20.2},
{"t":"Year","d":255,"TP":18.3,"HC":18.6,"TC":19.4,"CY":21.0,"TN":18.8,"HG":18.8},
{"t":"Year","d":270,"TP":16.6,"HC":16.9,"TC":17.8,"CY":19.5,"TN":17.2,"HG":17.2},
{"t":"Year","d":285,"TP":14.8,"HC":15.1,"TC":16.2,"CY":17.8,"TN":15.5,"HG":15.6},
{"t":"Year","d":300,"TP":13.1,"HC":13.3,"TC":14.7,"CY":16.1,"TN":13.85,"HG":14.0},
{"t":"Year","d":315,"TP":11.7,"HC":11.8,"TC":13.3,"CY":14.8,"TN":12.6,"HG":12.7},
{"t":"Year","d":330,"TP":10.6,"HC":10.6,"TC":12.1,"CY":13.7,"TN":11.6,"HG":11.7},
{"t":"Year","d":345,"TP":9.9,"HC":9.9,"TC":11.4,"CY":13.15,"TN":11.0,"HG":11.1},
{"t":"Year","d":355,"TP":9.75,"HC":9.7,"TC":11.2,"CY":13.0,"TN":10.75,"HG":10.8},
{"t":"Year","d":365,"TP":9.9,"HC":9.8,"TC":11.3,"CY":13.05,"TN":10.9,"HG":10.9},
{"t":"Season","d":0,"TP":11.2,"HC":10.5,"TC":13.2,"CY":14.15,"TN":12.5,"HG":12.55},
{"t":"Season","d":15,"TP":12.0,"HC":11.2,"TC":13.8,"CY":14.8,"TN":13.2,"HG":13.3},
{"t":"Season","d":31,"TP":13.0,"HC":12.2,"TC":14.75,"CY":15.7,"TN":14.2,"HG":14.3},
{"t":"Season","d":31,"TP":11.5,"HC":10.8,"TC":12.8,"CY":14.4,"TN":11.7,"HG":11.75},
{"t":"Season","d":45,"TP":13.0,"HC":12.4,"TC":14.3,"CY":15.8,"TN":13.5,"HG":13.6},
{"t":"Season","d":60,"TP":14.8,"HC":14.2,"TC":16.0,"CY":17.3,"TN":15.2,"HG":15.3},
{"t":"Season","d":75,"TP":16.7,"HC":16.1,"TC":17.8,"CY":19.0,"TN":16.9,"HG":17.0},
{"t":"Season","d":90,"TP":18.5,"HC":17.9,"TC":19.4,"CY":20.6,"TN":18.5,"HG":18.6},
{"t":"Season","d":105,"TP":19.9,"HC":19.5,"TC":20.8,"CY":22.0,"TN":19.8,"HG":19.9},
{"t":"Season","d":120,"TP":21.0,"HC":20.65,"TC":21.7,"CY":23.0,"TN":20.8,"HG":20.85},
{"t":"Season","d":120,"TP":20.3,"HC":20.75,"TC":20.2,"CY":23.1,"TN":20.4,"HG":20.5},
{"t":"Season","d":135,"TP":20.9,"HC":21.1,"TC":20.8,"CY":23.35,"TN":20.8,"HG":20.85},
{"t":"Season","d":150,"TP":21.2,"HC":21.3,"TC":21.2,"CY":23.45,"TN":21.0,"HG":21.0},
{"t":"Season","d":165,"TP":21.3,"HC":21.4,"TC":21.25,"CY":23.45,"TN":21.05,"HG":21.05},
{"t":"Season","d":180,"TP":21.3,"HC":21.4,"TC":21.25,"CY":23.45,"TN":21.0,"HG":21.0},
{"t":"Season","d":195,"TP":21.1,"HC":21.25,"TC":21.1,"CY":23.4,"TN":20.9,"HG":20.9},
{"t":"Season","d":212,"TP":20.8,"HC":20.75,"TC":20.9,"CY":23.3,"TN":20.75,"HG":20.7},
{"t":"Season","d":212,"TP":21.6,"HC":21.75,"TC":21.8,"CY":23.35,"TN":21.5,"HG":21.5},
{"t":"Season","d":225,"TP":21.0,"HC":21.3,"TC":21.2,"CY":22.9,"TN":21.0,"HG":21.0},
{"t":"Season","d":240,"TP":19.8,"HC":20.3,"TC":20.2,"CY":22.1,"TN":20.1,"HG":20.1},
{"t":"Season","d":255,"TP":18.3,"HC":18.9,"TC":18.8,"CY":20.8,"TN":18.7,"HG":18.7},
{"t":"Season","d":270,"TP":16.6,"HC":17.2,"TC":17.0,"CY":19.2,"TN":17.1,"HG":17.1},
{"t":"Season","d":285,"TP":14.8,"HC":15.4,"TC":15.3,"CY":17.5,"TN":15.4,"HG":15.5},
{"t":"Season","d":304,"TP":12.7,"HC":13.2,"TC":13.3,"CY":15.55,"TN":13.6,"HG":13.6},
{"t":"Season","d":304,"TP":13.7,"HC":13.3,"TC":15.8,"CY":16.7,"TN":15.0,"HG":15.0},
{"t":"Season","d":320,"TP":12.4,"HC":11.8,"TC":14.6,"CY":15.3,"TN":13.9,"HG":13.9},
{"t":"Season","d":334,"TP":11.6,"HC":10.9,"TC":13.8,"CY":14.5,"TN":13.0,"HG":13.0},
{"t":"Season","d":350,"TP":11.1,"HC":10.5,"TC":13.3,"CY":14.05,"TN":12.5,"HG":12.55},
{"t":"Season","d":365,"TP":11.2,"HC":10.4,"TC":13.2,"CY":14.0,"TN":12.45,"HG":12.5},
{"t":"Month","d":0,"TP":10.9,"HC":9.85,"TC":13.3,"CY":14.15,"TN":11.9,"HG":11.9},
{"t":"Month","d":15,"TP":11.7,"HC":10.5,"TC":14.0,"CY":14.9,"TN":12.6,"HG":12.65},
{"t":"Month","d":31,"TP":12.85,"HC":11.5,"TC":15.1,"CY":16.0,"TN":13.65,"HG":13.7},
{"t":"Month","d":31,"TP":12.9,"HC":12.3,"TC":14.8,"CY":15.8,"TN":12.8,"HG":12.95},
{"t":"Month","d":45,"TP":14.4,"HC":13.7,"TC":16.2,"CY":17.2,"TN":14.3,"HG":14.4},
{"t":"Month","d":59,"TP":15.95,"HC":15.3,"TC":17.8,"CY":18.75,"TN":15.9,"HG":16.0},
{"t":"Month","d":59,"TP":13.9,"HC":13.3,"TC":15.5,"CY":17.0,"TN":14.3,"HG":14.3},
{"t":"Month","d":75,"TP":15.9,"HC":15.3,"TC":17.3,"CY":18.7,"TN":16.1,"HG":16.2},
{"t":"Month","d":90,"TP":17.9,"HC":17.4,"TC":19.2,"CY":20.4,"TN":17.85,"HG":18.1},
{"t":"Month","d":90,"TP":17.1,"HC":17.2,"TC":17.4,"CY":19.9,"TN":17.8,"HG":17.9},
{"t":"Month","d":105,"TP":18.8,"HC":18.7,"TC":18.9,"CY":21.0,"TN":18.9,"HG":19.0},
{"t":"Month","d":120,"TP":20.0,"HC":20.0,"TC":20.2,"CY":21.9,"TN":19.8,"HG":20.0},
{"t":"Month","d":120,"TP":20.1,"HC":20.3,"TC":20.9,"CY":23.5,"TN":19.9,"HG":20.0},
{"t":"Month","d":135,"TP":20.8,"HC":20.9,"TC":21.3,"CY":23.75,"TN":20.6,"HG":20.7},
{"t":"Month","d":151,"TP":21.1,"HC":21.3,"TC":21.6,"CY":23.8,"TN":21.0,"HG":21.05},
{"t":"Month","d":151,"TP":21.1,"HC":21.2,"TC":21.25,"CY":22.95,"TN":21.0,"HG":21.05},
{"t":"Month","d":166,"TP":21.3,"HC":21.25,"TC":21.3,"CY":22.9,"TN":21.0,"HG":21.05},
{"t":"Month","d":181,"TP":21.3,"HC":21.25,"TC":21.35,"CY":22.9,"TN":21.0,"HG":21.0},
{"t":"Month","d":181,"TP":21.3,"HC":21.95,"TC":21.35,"CY":23.4,"TN":20.95,"HG":21.0},
{"t":"Month","d":196,"TP":21.1,"HC":21.8,"TC":21.1,"CY":23.35,"TN":20.85,"HG":20.9},
{"t":"Month","d":212,"TP":20.8,"HC":21.5,"TC":20.7,"CY":23.25,"TN":20.6,"HG":20.7},
{"t":"Month","d":212,"TP":20.6,"HC":21.0,"TC":20.7,"CY":22.6,"TN":20.55,"HG":20.6},
{"t":"Month","d":228,"TP":19.6,"HC":20.2,"TC":19.8,"CY":22.0,"TN":19.8,"HG":19.9},
{"t":"Month","d":243,"TP":18.2,"HC":18.9,"TC":18.4,"CY":21.2,"TN":18.7,"HG":18.8},
{"t":"Month","d":243,"TP":19.45,"HC":19.9,"TC":19.7,"CY":21.5,"TN":19.7,"HG":19.75},
{"t":"Month","d":258,"TP":17.9,"HC":18.4,"TC":18.2,"CY":20.3,"TN":18.4,"HG":18.4},
{"t":"Month","d":273,"TP":16.1,"HC":16.6,"TC":16.3,"CY":18.95,"TN":16.7,"HG":16.7},
{"t":"Month","d":273,"TP":17.6,"HC":17.4,"TC":18.45,"CY":19.9,"TN":18.5,"HG":18.5},
{"t":"Month","d":288,"TP":16.0,"HC":15.8,"TC":16.8,"CY":18.3,"TN":17.0,"HG":17.0},
{"t":"Month","d":304,"TP":14.5,"HC":14.0,"TC":14.9,"CY":16.7,"TN":15.3,"HG":15.3},
{"t":"Month","d":304,"TP":14.4,"HC":14.0,"TC":15.35,"CY":16.6,"TN":15.2,"HG":15.2},
{"t":"Month","d":319,"TP":13.0,"HC":12.7,"TC":14.3,"CY":15.4,"TN":14.2,"HG":14.2},
{"t":"Month","d":334,"TP":11.75,"HC":11.45,"TC":13.35,"CY":14.35,"TN":13.2,"HG":13.25},
{"t":"Month","d":334,"TP":11.7,"HC":10.8,"TC":13.3,"CY":14.5,"TN":13.1,"HG":13.1},
{"t":"Month","d":350,"TP":11.2,"HC":10.4,"TC":13.05,"CY":14.2,"TN":12.75,"HG":12.75},
{"t":"Month","d":365,"TP":11.3,"HC":10.3,"TC":13.1,"CY":14.15,"TN":12.65,"HG":12.7}
]
},
"concat": [
{"width": 1380, "height": 1175, "layer": [
 {"data": {"name": "cwb"}, "mark": {"type": "circle", "size": 400, "opacity": 1},
  "encoding": {
   "x": {"field": "d", "type": "quantitative", "scale": {"domain": [0, 365], "nice": false, "zero": false}, "axis": {"title": "Day", "values": [0,50,100,150,200,250,300,350], "labelExpr": "datum.value % 100 === 0 ? datum.label : ''", "tickSize": {"condition": {"test": "datum.value % 100 === 0", "value": -45}, "value": -23}, "labelPadding": {"condition": {"test": "datum.value % 100 === 0", "value": 70}, "value": 48}, "titlePadding": 4}},
   "y": {"field": "TP", "type": "quantitative", "scale": {"domain": [5, 30], "nice": false, "zero": false}, "axis": {"title": "Solar Energy(MJ/m²)", "values": [5,7.5,10,12.5,15,17.5,20,22.5,25,27.5,30], "labelExpr": "'' + datum.value", "tickSize": {"condition": {"test": "datum.value % 5 === 0", "value": -45}, "value": -23}, "labelPadding": {"condition": {"test": "datum.value % 5 === 0", "value": 73}, "value": 51}, "titlePadding": 39}},
   "fill": {"datum": "CWB", "type": "nominal", "scale": {"domain": ["CWB"], "range": ["#666666"]}, "legend": {"title": "Taipei", "legendX": 512, "legendY": 724, "symbolType": "M -3.24 0 A 0.76 0.76 0 1 0 -4.76 0 A 0.76 0.76 0 1 0 -3.24 0 Z M 0.76 0 A 0.76 0.76 0 1 0 -0.76 0 A 0.76 0.76 0 1 0 0.76 0 Z M 4.76 0 A 0.76 0.76 0 1 0 3.24 0 A 0.76 0.76 0 1 0 4.76 0 Z", "symbolSize": 2970, "symbolStrokeWidth": 0, "symbolOpacity": 1, "labelOffset": 126, "titlePadding": 7}}
  }},
 {"data": {"name": "fit"}, "transform": [{"filter": "datum.t === 'Year'"}], "mark": {"type": "line", "strokeWidth": 9}, "encoding": {"x": {"field": "d", "type": "quantitative"}, "y": {"field": "TP", "type": "quantitative"}, "stroke": {"field": "t", "type": "nominal", "scale": {"domain": ["Year","Season","Month"], "range": ["#0000ff","#ff0000","#00ff00"]}, "legend": {"title": null, "legendX": 506, "legendY": 873, "symbolType": "M -4 0 L 4 0", "symbolSize": 2970, "symbolStrokeWidth": 11.5, "symbolOpacity": 1, "labelOffset": 121, "rowPadding": 11}}, "order": {"value": null}}},
 {"data": {"name": "fit"}, "transform": [{"filter": "datum.t === 'Season'"}], "mark": {"type": "line", "strokeWidth": 9}, "encoding": {"x": {"field": "d", "type": "quantitative"}, "y": {"field": "TP", "type": "quantitative"}, "stroke": {"field": "t", "type": "nominal"}, "order": {"value": null}}},
 {"data": {"name": "fit"}, "transform": [{"filter": "datum.t === 'Month'"}], "mark": {"type": "line", "strokeWidth": 9}, "encoding": {"x": {"field": "d", "type": "quantitative"}, "y": {"field": "TP", "type": "quantitative"}, "stroke": {"field": "t", "type": "nominal"}, "order": {"value": null}}},
 {"data": {"values": [{"n": "台北"}]}, "mark": {"type": "text", "align": "right", "baseline": "middle", "fontSize": 150, "font": "Noto Sans CJK TC", "fontWeight": "bold", "color": "#0066ff"}, "encoding": {"x": {"datum": 340, "type": "quantitative"}, "y": {"datum": 28.25, "type": "quantitative"}, "text": {"field": "n"}}}
]},
{"width": 1380, "height": 1175, "layer": [
 {"data": {"name": "cwb"}, "mark": {"type": "circle", "size": 400, "opacity": 1},
  "encoding": {
   "x": {"field": "d", "type": "quantitative", "scale": {"domain": [0, 365], "nice": false, "zero": false}, "axis": {"title": "Day", "values": [0,50,100,150,200,250,300,350], "labelExpr": "datum.value % 100 === 0 ? datum.label : ''", "tickSize": {"condition": {"test": "datum.value % 100 === 0", "value": -45}, "value": -23}, "labelPadding": {"condition": {"test": "datum.value % 100 === 0", "value": 70}, "value": 48}, "titlePadding": 4}},
   "y": {"field": "HC", "type": "quantitative", "scale": {"domain": [5, 30], "nice": false, "zero": false}, "axis": {"title": "Solar Energy(MJ/m²)", "values": [5,7.5,10,12.5,15,17.5,20,22.5,25,27.5,30], "labelExpr": "'' + datum.value", "tickSize": {"condition": {"test": "datum.value % 5 === 0", "value": -45}, "value": -23}, "labelPadding": {"condition": {"test": "datum.value % 5 === 0", "value": 73}, "value": 51}, "titlePadding": 39}},
   "fill": {"datum": "CWB", "type": "nominal", "scale": {"domain": ["CWB"], "range": ["#666666"]}, "legend": {"title": "Hsinchu", "legendX": 512, "legendY": 724, "symbolType": "M -3.24 0 A 0.76 0.76 0 1 0 -4.76 0 A 0.76 0.76 0 1 0 -3.24 0 Z M 0.76 0 A 0.76 0.76 0 1 0 -0.76 0 A 0.76 0.76 0 1 0 0.76 0 Z M 4.76 0 A 0.76 0.76 0 1 0 3.24 0 A 0.76 0.76 0 1 0 4.76 0 Z", "symbolSize": 2970, "symbolStrokeWidth": 0, "symbolOpacity": 1, "labelOffset": 126, "titlePadding": 7}}
  }},
 {"data": {"name": "fit"}, "transform": [{"filter": "datum.t === 'Year'"}], "mark": {"type": "line", "strokeWidth": 9}, "encoding": {"x": {"field": "d", "type": "quantitative"}, "y": {"field": "HC", "type": "quantitative"}, "stroke": {"field": "t", "type": "nominal", "scale": {"domain": ["Year","Season","Month"], "range": ["#0000ff","#ff0000","#00ff00"]}, "legend": {"title": null, "legendX": 506, "legendY": 873, "symbolType": "M -4 0 L 4 0", "symbolSize": 2970, "symbolStrokeWidth": 11.5, "symbolOpacity": 1, "labelOffset": 121, "rowPadding": 11}}, "order": {"value": null}}},
 {"data": {"name": "fit"}, "transform": [{"filter": "datum.t === 'Season'"}], "mark": {"type": "line", "strokeWidth": 9}, "encoding": {"x": {"field": "d", "type": "quantitative"}, "y": {"field": "HC", "type": "quantitative"}, "stroke": {"field": "t", "type": "nominal"}, "order": {"value": null}}},
 {"data": {"name": "fit"}, "transform": [{"filter": "datum.t === 'Month'"}], "mark": {"type": "line", "strokeWidth": 9}, "encoding": {"x": {"field": "d", "type": "quantitative"}, "y": {"field": "HC", "type": "quantitative"}, "stroke": {"field": "t", "type": "nominal"}, "order": {"value": null}}},
 {"data": {"values": [{"n": "新竹"}]}, "mark": {"type": "text", "align": "right", "baseline": "middle", "fontSize": 150, "font": "Noto Sans CJK TC", "fontWeight": "bold", "color": "#0066ff"}, "encoding": {"x": {"datum": 340, "type": "quantitative"}, "y": {"datum": 28.25, "type": "quantitative"}, "text": {"field": "n"}}}
]},
{"width": 1380, "height": 1175, "layer": [
 {"data": {"name": "cwb"}, "mark": {"type": "circle", "size": 400, "opacity": 1},
  "encoding": {
   "x": {"field": "d", "type": "quantitative", "scale": {"domain": [0, 365], "nice": false, "zero": false}, "axis": {"title": "Day", "values": [0,50,100,150,200,250,300,350], "labelExpr": "datum.value % 100 === 0 ? datum.label : ''", "tickSize": {"condition": {"test": "datum.value % 100 === 0", "value": -45}, "value": -23}, "labelPadding": {"condition": {"test": "datum.value % 100 === 0", "value": 70}, "value": 48}, "titlePadding": 4}},
   "y": {"field": "TC", "type": "quantitative", "scale": {"domain": [5, 30], "nice": false, "zero": false}, "axis": {"title": "Solar Energy(MJ/m²)", "values": [5,7.5,10,12.5,15,17.5,20,22.5,25,27.5,30], "labelExpr": "'' + datum.value", "tickSize": {"condition": {"test": "datum.value % 5 === 0", "value": -45}, "value": -23}, "labelPadding": {"condition": {"test": "datum.value % 5 === 0", "value": 73}, "value": 51}, "titlePadding": 39}},
   "fill": {"datum": "CWB", "type": "nominal", "scale": {"domain": ["CWB"], "range": ["#666666"]}, "legend": {"title": "Taichung", "legendX": 512, "legendY": 724, "symbolType": "M -3.24 0 A 0.76 0.76 0 1 0 -4.76 0 A 0.76 0.76 0 1 0 -3.24 0 Z M 0.76 0 A 0.76 0.76 0 1 0 -0.76 0 A 0.76 0.76 0 1 0 0.76 0 Z M 4.76 0 A 0.76 0.76 0 1 0 3.24 0 A 0.76 0.76 0 1 0 4.76 0 Z", "symbolSize": 2970, "symbolStrokeWidth": 0, "symbolOpacity": 1, "labelOffset": 126, "titlePadding": 7}}
  }},
 {"data": {"name": "fit"}, "transform": [{"filter": "datum.t === 'Year'"}], "mark": {"type": "line", "strokeWidth": 9}, "encoding": {"x": {"field": "d", "type": "quantitative"}, "y": {"field": "TC", "type": "quantitative"}, "stroke": {"field": "t", "type": "nominal", "scale": {"domain": ["Year","Season","Month"], "range": ["#0000ff","#ff0000","#00ff00"]}, "legend": {"title": null, "legendX": 506, "legendY": 873, "symbolType": "M -4 0 L 4 0", "symbolSize": 2970, "symbolStrokeWidth": 11.5, "symbolOpacity": 1, "labelOffset": 121, "rowPadding": 11}}, "order": {"value": null}}},
 {"data": {"name": "fit"}, "transform": [{"filter": "datum.t === 'Season'"}], "mark": {"type": "line", "strokeWidth": 9}, "encoding": {"x": {"field": "d", "type": "quantitative"}, "y": {"field": "TC", "type": "quantitative"}, "stroke": {"field": "t", "type": "nominal"}, "order": {"value": null}}},
 {"data": {"name": "fit"}, "transform": [{"filter": "datum.t === 'Month'"}], "mark": {"type": "line", "strokeWidth": 9}, "encoding": {"x": {"field": "d", "type": "quantitative"}, "y": {"field": "TC", "type": "quantitative"}, "stroke": {"field": "t", "type": "nominal"}, "order": {"value": null}}},
 {"data": {"values": [{"n": "台中"}]}, "mark": {"type": "text", "align": "right", "baseline": "middle", "fontSize": 150, "font": "Noto Sans CJK TC", "fontWeight": "bold", "color": "#0066ff"}, "encoding": {"x": {"datum": 340, "type": "quantitative"}, "y": {"datum": 28.25, "type": "quantitative"}, "text": {"field": "n"}}}
]},
{"width": 1380, "height": 1175, "layer": [
 {"data": {"name": "cwb"}, "mark": {"type": "circle", "size": 400, "opacity": 1},
  "encoding": {
   "x": {"field": "d", "type": "quantitative", "scale": {"domain": [0, 365], "nice": false, "zero": false}, "axis": {"title": "Day", "values": [0,50,100,150,200,250,300,350], "labelExpr": "datum.value % 100 === 0 ? datum.label : ''", "tickSize": {"condition": {"test": "datum.value % 100 === 0", "value": -45}, "value": -23}, "labelPadding": {"condition": {"test": "datum.value % 100 === 0", "value": 70}, "value": 48}, "titlePadding": 4}},
   "y": {"field": "CY", "type": "quantitative", "scale": {"domain": [5, 30], "nice": false, "zero": false}, "axis": {"title": "Solar Energy(MJ/m²)", "values": [5,7.5,10,12.5,15,17.5,20,22.5,25,27.5,30], "labelExpr": "'' + datum.value", "tickSize": {"condition": {"test": "datum.value % 5 === 0", "value": -45}, "value": -23}, "labelPadding": {"condition": {"test": "datum.value % 5 === 0", "value": 73}, "value": 51}, "titlePadding": 39}},
   "fill": {"datum": "CWB", "type": "nominal", "scale": {"domain": ["CWB"], "range": ["#666666"]}, "legend": {"title": "Chiayi", "legendX": 512, "legendY": 724, "symbolType": "M -3.24 0 A 0.76 0.76 0 1 0 -4.76 0 A 0.76 0.76 0 1 0 -3.24 0 Z M 0.76 0 A 0.76 0.76 0 1 0 -0.76 0 A 0.76 0.76 0 1 0 0.76 0 Z M 4.76 0 A 0.76 0.76 0 1 0 3.24 0 A 0.76 0.76 0 1 0 4.76 0 Z", "symbolSize": 2970, "symbolStrokeWidth": 0, "symbolOpacity": 1, "labelOffset": 126, "titlePadding": 7}}
  }},
 {"data": {"name": "fit"}, "transform": [{"filter": "datum.t === 'Year'"}], "mark": {"type": "line", "strokeWidth": 9}, "encoding": {"x": {"field": "d", "type": "quantitative"}, "y": {"field": "CY", "type": "quantitative"}, "stroke": {"field": "t", "type": "nominal", "scale": {"domain": ["Year","Season","Month"], "range": ["#0000ff","#ff0000","#00ff00"]}, "legend": {"title": null, "legendX": 506, "legendY": 873, "symbolType": "M -4 0 L 4 0", "symbolSize": 2970, "symbolStrokeWidth": 11.5, "symbolOpacity": 1, "labelOffset": 121, "rowPadding": 11}}, "order": {"value": null}}},
 {"data": {"name": "fit"}, "transform": [{"filter": "datum.t === 'Season'"}], "mark": {"type": "line", "strokeWidth": 9}, "encoding": {"x": {"field": "d", "type": "quantitative"}, "y": {"field": "CY", "type": "quantitative"}, "stroke": {"field": "t", "type": "nominal"}, "order": {"value": null}}},
 {"data": {"name": "fit"}, "transform": [{"filter": "datum.t === 'Month'"}], "mark": {"type": "line", "strokeWidth": 9}, "encoding": {"x": {"field": "d", "type": "quantitative"}, "y": {"field": "CY", "type": "quantitative"}, "stroke": {"field": "t", "type": "nominal"}, "order": {"value": null}}},
 {"data": {"values": [{"n": "嘉義"}]}, "mark": {"type": "text", "align": "right", "baseline": "middle", "fontSize": 150, "font": "Noto Sans CJK TC", "fontWeight": "bold", "color": "#0066ff"}, "encoding": {"x": {"datum": 340, "type": "quantitative"}, "y": {"datum": 28.25, "type": "quantitative"}, "text": {"field": "n"}}}
]},
{"width": 1380, "height": 1175, "layer": [
 {"data": {"name": "cwb"}, "mark": {"type": "circle", "size": 400, "opacity": 1},
  "encoding": {
   "x": {"field": "d", "type": "quantitative", "scale": {"domain": [0, 365], "nice": false, "zero": false}, "axis": {"title": "Day", "values": [0,50,100,150,200,250,300,350], "labelExpr": "datum.value % 100 === 0 ? datum.label : ''", "tickSize": {"condition": {"test": "datum.value % 100 === 0", "value": -45}, "value": -23}, "labelPadding": {"condition": {"test": "datum.value % 100 === 0", "value": 70}, "value": 48}, "titlePadding": 4}},
   "y": {"field": "TN", "type": "quantitative", "scale": {"domain": [5, 30], "nice": false, "zero": false}, "axis": {"title": "Solar Energy(MJ/m²)", "values": [5,7.5,10,12.5,15,17.5,20,22.5,25,27.5,30], "labelExpr": "'' + datum.value", "tickSize": {"condition": {"test": "datum.value % 5 === 0", "value": -45}, "value": -23}, "labelPadding": {"condition": {"test": "datum.value % 5 === 0", "value": 73}, "value": 51}, "titlePadding": 39}},
   "fill": {"datum": "CWB", "type": "nominal", "scale": {"domain": ["CWB"], "range": ["#666666"]}, "legend": {"title": "Tainan", "legendX": 512, "legendY": 724, "symbolType": "M -3.24 0 A 0.76 0.76 0 1 0 -4.76 0 A 0.76 0.76 0 1 0 -3.24 0 Z M 0.76 0 A 0.76 0.76 0 1 0 -0.76 0 A 0.76 0.76 0 1 0 0.76 0 Z M 4.76 0 A 0.76 0.76 0 1 0 3.24 0 A 0.76 0.76 0 1 0 4.76 0 Z", "symbolSize": 2970, "symbolStrokeWidth": 0, "symbolOpacity": 1, "labelOffset": 126, "titlePadding": 7}}
  }},
 {"data": {"name": "fit"}, "transform": [{"filter": "datum.t === 'Year'"}], "mark": {"type": "line", "strokeWidth": 9}, "encoding": {"x": {"field": "d", "type": "quantitative"}, "y": {"field": "TN", "type": "quantitative"}, "stroke": {"field": "t", "type": "nominal", "scale": {"domain": ["Year","Season","Month"], "range": ["#0000ff","#ff0000","#00ff00"]}, "legend": {"title": null, "legendX": 506, "legendY": 873, "symbolType": "M -4 0 L 4 0", "symbolSize": 2970, "symbolStrokeWidth": 11.5, "symbolOpacity": 1, "labelOffset": 121, "rowPadding": 11}}, "order": {"value": null}}},
 {"data": {"name": "fit"}, "transform": [{"filter": "datum.t === 'Season'"}], "mark": {"type": "line", "strokeWidth": 9}, "encoding": {"x": {"field": "d", "type": "quantitative"}, "y": {"field": "TN", "type": "quantitative"}, "stroke": {"field": "t", "type": "nominal"}, "order": {"value": null}}},
 {"data": {"name": "fit"}, "transform": [{"filter": "datum.t === 'Month'"}], "mark": {"type": "line", "strokeWidth": 9}, "encoding": {"x": {"field": "d", "type": "quantitative"}, "y": {"field": "TN", "type": "quantitative"}, "stroke": {"field": "t", "type": "nominal"}, "order": {"value": null}}},
 {"data": {"values": [{"n": "台南"}]}, "mark": {"type": "text", "align": "right", "baseline": "middle", "fontSize": 150, "font": "Noto Sans CJK TC", "fontWeight": "bold", "color": "#0066ff"}, "encoding": {"x": {"datum": 340, "type": "quantitative"}, "y": {"datum": 28.25, "type": "quantitative"}, "text": {"field": "n"}}}
]},
{"width": 1380, "height": 1175, "layer": [
 {"data": {"name": "cwb"}, "mark": {"type": "circle", "size": 400, "opacity": 1},
  "encoding": {
   "x": {"field": "d", "type": "quantitative", "scale": {"domain": [0, 365], "nice": false, "zero": false}, "axis": {"title": "Day", "values": [0,50,100,150,200,250,300,350], "labelExpr": "datum.value % 100 === 0 ? datum.label : ''", "tickSize": {"condition": {"test": "datum.value % 100 === 0", "value": -45}, "value": -23}, "labelPadding": {"condition": {"test": "datum.value % 100 === 0", "value": 70}, "value": 48}, "titlePadding": 4}},
   "y": {"field": "TN", "type": "quantitative", "scale": {"domain": [5, 30], "nice": false, "zero": false}, "axis": {"title": "Solar Energy(MJ/m²)", "values": [5,7.5,10,12.5,15,17.5,20,22.5,25,27.5,30], "labelExpr": "'' + datum.value", "tickSize": {"condition": {"test": "datum.value % 5 === 0", "value": -45}, "value": -23}, "labelPadding": {"condition": {"test": "datum.value % 5 === 0", "value": 73}, "value": 51}, "titlePadding": 39}},
   "fill": {"datum": "CWB", "type": "nominal", "scale": {"domain": ["CWB"], "range": ["#666666"]}, "legend": {"title": "Hengchun", "legendX": 512, "legendY": 724, "symbolType": "M -3.24 0 A 0.76 0.76 0 1 0 -4.76 0 A 0.76 0.76 0 1 0 -3.24 0 Z M 0.76 0 A 0.76 0.76 0 1 0 -0.76 0 A 0.76 0.76 0 1 0 0.76 0 Z M 4.76 0 A 0.76 0.76 0 1 0 3.24 0 A 0.76 0.76 0 1 0 4.76 0 Z", "symbolSize": 2970, "symbolStrokeWidth": 0, "symbolOpacity": 1, "labelOffset": 126, "titlePadding": 7}}
  }},
 {"data": {"name": "fit"}, "transform": [{"filter": "datum.t === 'Year'"}], "mark": {"type": "line", "strokeWidth": 9}, "encoding": {"x": {"field": "d", "type": "quantitative"}, "y": {"field": "HG", "type": "quantitative"}, "stroke": {"field": "t", "type": "nominal", "scale": {"domain": ["Year","Season","Month"], "range": ["#0000ff","#ff0000","#00ff00"]}, "legend": {"title": null, "legendX": 506, "legendY": 873, "symbolType": "M -4 0 L 4 0", "symbolSize": 2970, "symbolStrokeWidth": 11.5, "symbolOpacity": 1, "labelOffset": 121, "rowPadding": 11}}, "order": {"value": null}}},
 {"data": {"name": "fit"}, "transform": [{"filter": "datum.t === 'Season'"}], "mark": {"type": "line", "strokeWidth": 9}, "encoding": {"x": {"field": "d", "type": "quantitative"}, "y": {"field": "HG", "type": "quantitative"}, "stroke": {"field": "t", "type": "nominal"}, "order": {"value": null}}},
 {"data": {"name": "fit"}, "transform": [{"filter": "datum.t === 'Month'"}], "mark": {"type": "line", "strokeWidth": 9}, "encoding": {"x": {"field": "d", "type": "quantitative"}, "y": {"field": "HG", "type": "quantitative"}, "stroke": {"field": "t", "type": "nominal"}, "order": {"value": null}}},
 {"data": {"values": [{"n": "恒春"}]}, "mark": {"type": "text", "align": "right", "baseline": "middle", "fontSize": 150, "font": "Noto Sans CJK TC", "fontWeight": "bold", "color": "#0066ff"}, "encoding": {"x": {"datum": 340, "type": "quantitative"}, "y": {"datum": 28.25, "type": "quantitative"}, "text": {"field": "n"}}}
]}
],
"config": {
 "font": "Liberation Sans",
 "view": {"stroke": "black", "strokeWidth": 11},
 "axis": {"grid": false, "domainColor": "black", "domainWidth": 11, "tickColor": "black", "tickWidth": 11, "labelFont": "Liberation Sans", "labelFontSize": 63, "labelColor": "black", "labelFlush": false, "labelOverlap": false, "titleFont": "Liberation Sans", "titleFontSize": 60, "titleFontWeight": "normal", "titleColor": "black"},
 "legend": {"orient": "none", "padding": 0, "rowPadding": 11, "labelFont": "Liberation Sans", "labelFontSize": 64, "labelColor": "black", "labelLimit": 1000, "titleFont": "Liberation Sans", "titleFontSize": 62, "titleFontWeight": "normal", "titleColor": "black", "titleAnchor": "middle", "titleLimit": 1000}
}
}
